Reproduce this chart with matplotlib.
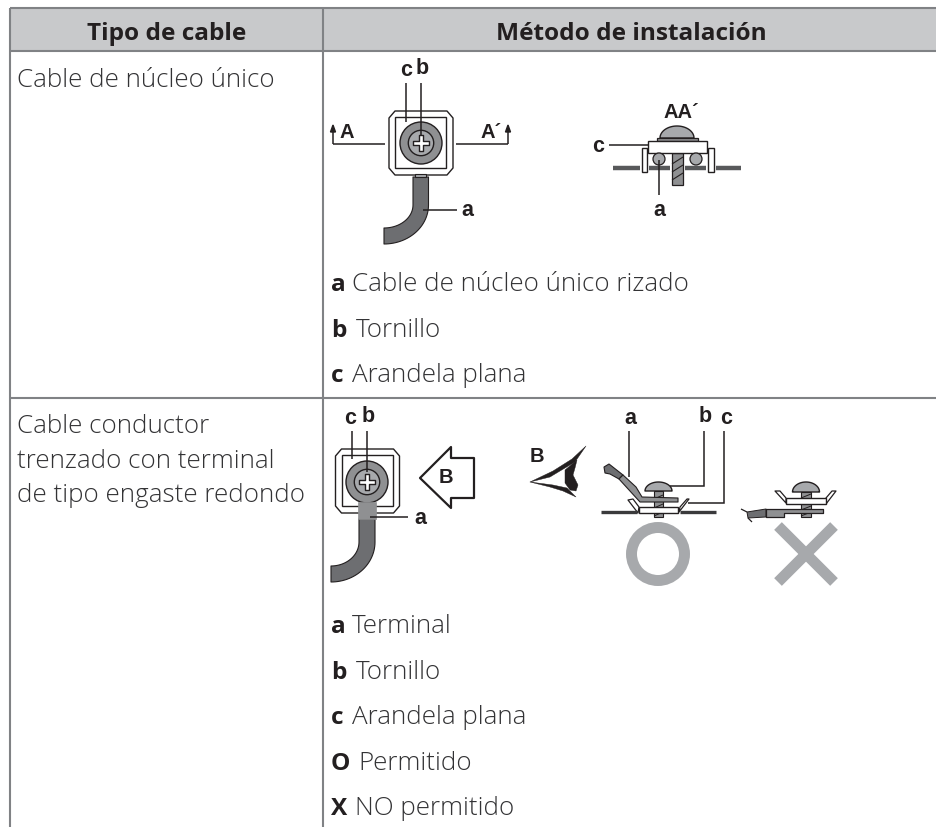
import numpy as np
import matplotlib
matplotlib.use('Agg')
import matplotlib.pyplot as plt
from matplotlib.patches import Polygon, Circle, Rectangle

DARK = '#231f20'
GREY = '#8f9092'
LIGHT = '#a7a9ac'
WIRE = '#6d6e71'
HEAD = '#c8c9cb'
LINE = '#808285'
TEXT = '#333335'
BODY = 'Open Sans'
LABEL = 'Liberation Sans'
SIZE = 18.7

headers = ['Tipo de cable', 'Método de instalación']
row1_left = ['Cable de núcleo único']
row2_left = ['Cable conductor', 'trenzado con terminal', 'de tipo engaste redondo']
row2_left_y = [433, 467.5, 502]
row1_items = [('a', 'Cable de núcleo único rizado', 291), ('b', 'Tornillo', 337), ('c', 'Arandela plana', 382)]
row2_items = [('a', 'Terminal', 633), ('b', 'Tornillo', 679), ('c', 'Arandela plana', 724),
              ('O', 'Permitido', 770), ('X', 'NO permitido', 815)]
item_x = {'a': 352, 'b': 356, 'c': 352, 'O': 358, 'X': 355}

fig = plt.figure(figsize=(9.37, 8.27), dpi=100)
ax = fig.add_axes([0, 0, 1, 1])
ax.set_xlim(0, 937)
ax.set_ylim(827, 0)
ax.axis('off')


def seg(xs, ys, lw=1.1, c=DARK, z=5):
    ax.plot(xs, ys, color=c, lw=lw, solid_capstyle='butt', solid_joinstyle='miter', zorder=z)


def poly(pts, fc='white', ec=DARK, lw=1.0, z=3):
    ax.add_patch(Polygon(pts, closed=True, fc=fc, ec=ec, lw=lw, zorder=z, joinstyle='round'))


def lab(x, y, s, size=15.5):
    ax.text(x, y, s, family=LABEL, weight='bold', fontsize=size, color=DARK, ha='center', va='center', zorder=8)


def rect(x0, y0, x1, y1, fc='white', ec=DARK, lw=1.0, z=3):
    ax.add_patch(Rectangle((x0, y0), x1 - x0, y1 - y0, fc=fc, ec=ec, lw=lw, zorder=z))


def dome(cx, y, rx, ry):
    theta = np.linspace(np.pi, 0, 40)
    poly(list(zip(cx + rx * np.cos(theta), y - ry * np.sin(theta))), fc=LIGHT, lw=1)


def cross(cx, cy, r, lw=1.0):
    w = r * 0.28
    pts = [(cx - w, cy - r), (cx + w, cy - r), (cx + w, cy - w), (cx + r, cy - w), (cx + r, cy + w), (cx + w, cy + w),
           (cx + w, cy + r), (cx - w, cy + r), (cx - w, cy + w), (cx - r, cy + w), (cx - r, cy - w), (cx - w, cy - w)]
    poly(pts, fc='white', ec=DARK, lw=lw, z=6)


def washer_top(cx, cy):
    # square washer with chamfered tabs, seen from above
    poly([(cx - 32, cy - 25), (cx - 26, cy - 32), (cx + 26, cy - 32), (cx + 32, cy - 25),
          (cx + 32, cy + 25), (cx + 26, cy + 32), (cx - 26, cy + 32), (cx - 32, cy + 25)], z=2)
    rect(cx - 25.5, cy - 26, cx + 25.5, cy + 25, z=2)


def screw_top(cx, cy):
    ax.add_patch(Circle((cx, cy), 21, fc=GREY, ec=DARK, lw=1.0, zorder=4))
    ax.add_patch(Circle((cx, cy), 12.7, fc=LIGHT, ec=DARK, lw=1.0, zorder=4))
    cross(cx, cy, 8)


def wire_bend(x0, x1, y_top, y_bend, x_end, y_end0, y_end1):
    t = np.linspace(0, np.pi / 2, 30)
    outer = list(zip(x1 - (x1 - x_end) * (1 - np.cos(t)), y_bend + (y_end1 - y_bend) * np.sin(t)))
    inner = list(zip(x_end + (x0 - x_end) * np.sin(t), y_end0 - (y_end0 - y_bend) * (1 - np.cos(t))))
    poly([(x0, y_top), (x1, y_top)] + outer + inner, fc=WIRE, lw=0.8)


# table
ax.add_patch(Rectangle((10, 8), 927, 43, fc=HEAD, ec='none', zorder=0))
for y in [8, 51, 398]:
    seg([10, 937], [y, y], c=LINE, lw=1.5, z=1)
for x in [10.5, 323.5]:
    seg([x, x], [8, 827], c=LINE, lw=1.5, z=1)

ax.text(167, 39.5, headers[0], family=BODY, weight='bold', fontsize=17.6, color=DARK, ha='center', va='baseline')
ax.text(631, 39.5, headers[1], family=BODY, weight='bold', fontsize=17.6, color=DARK, ha='center', va='baseline')
ax.text(17, 87, row1_left[0], family=BODY, weight='light', fontsize=SIZE, color=TEXT, va='baseline')
for s, y in zip(row2_left, row2_left_y):
    ax.text(17, y, s, family=BODY, weight='light', fontsize=SIZE, color=TEXT, va='baseline')
for letter, text, y in row1_items + row2_items:
    ax.text(331, y, letter, family=BODY, weight='bold', fontsize=17.6, color=DARK, va='baseline')
    ax.text(item_x[letter], y, text, family=BODY, weight='light', fontsize=SIZE, color=TEXT, va='baseline')

# top-left figure
wire_bend(413, 428.5, 177, 205, 384, 228, 244)
rect(415, 174, 426, 177, fc=LIGHT, lw=0.8)
washer_top(421, 143)
screw_top(421, 143)
seg([406, 406], [83, 122])
seg([421, 421], [83, 135])
lab(406, 70, 'c')
lab(422, 69, 'b')
seg([333, 385], [144, 144])
seg([333, 333], [130, 144])
seg([456, 508], [144, 144])
seg([508, 508], [130, 144])
ax.fill([333, 330.5, 335.5], [125, 132, 132], color=DARK, zorder=5)
ax.fill([508, 505.5, 510.5], [125, 132, 132], color=DARK, zorder=5)
lab(346.5, 133, 'A', 14.5)
lab(491, 133, 'A´', 14.5)
seg([423, 457], [210, 210])
lab(467.5, 211, 'a')

# top-right figure, section AA'
lab(681, 112, 'AA´', 14.5)
dome(677, 138, 17, 12)
rect(657, 138, 698, 141, fc=GREY, lw=0.9)
rect(648, 141, 707, 153, z=4)
rect(672, 153, 683, 185, fc=GREY, lw=0.9, z=2)
for y in [160, 168, 176]:
    seg([672, 683], [y + 4, y - 3], lw=0.8, z=3)
for x0, x1 in [(613, 640), (649, 670), (685, 706), (716, 741)]:
    seg([x0, x1], [168, 168], lw=3.2, c='#58595b', z=1)
rect(642, 148, 647, 172, z=4)
rect(708, 148, 714, 172, z=4)
ax.add_patch(Circle((659, 159), 6, fc=LIGHT, ec=DARK, lw=0.9, zorder=5))
ax.add_patch(Circle((696, 159), 6, fc=LIGHT, ec=DARK, lw=0.9, zorder=5))
seg([609, 648], [145, 145])
lab(598.5, 146, 'c')
seg([659, 659], [160, 195])
lab(659, 211, 'a')

# bottom-left figure
wire_bend(359, 375, 519, 542, 331, 566, 582)
washer_top(367.5, 481)
ax.add_patch(Circle((367, 482), 21, fc=GREY, ec=DARK, lw=1.0, zorder=4))
rect(358, 502, 376, 519, fc=GREY, ec=GREY, lw=0.5, z=4)
ax.add_patch(Circle((367, 482), 12.7, fc=LIGHT, ec=DARK, lw=1.0, zorder=4))
cross(367, 482, 8)
seg([352, 352], [431, 459])
seg([367, 367], [431, 472])
lab(350.5, 418, 'c')
lab(368, 417, 'b')
seg([370, 408], [517, 517])
lab(420.5, 519, 'a')
poly([(420, 478), (451, 447), (451, 458), (474, 458), (474, 498), (451, 498), (451, 508)], lw=1.6)
lab(446, 477.5, 'B', 14.5)

# eye
lab(537, 456, 'B', 14.5)
poly([(530, 482), (553, 471), (572, 459), (586, 446), (575, 462), (565, 468), (550, 477)], fc=DARK, lw=0.3)
poly([(565, 470), (577, 460), (575, 468), (573, 475), (578, 485), (576, 491), (570, 490), (565, 483)], fc=DARK, lw=0.3)
poly([(530, 482), (553, 485), (567, 488), (576, 497), (563, 491), (550, 487)], fc=DARK, lw=0.3)

# bottom-middle section, allowed
poly([(604, 467), (609, 464), (623, 475), (619, 479), (610, 474), (605, 473)], fc=WIRE, lw=0.8)
poly([(623, 475), (636, 487), (642, 497), (678, 498), (678, 502), (640, 502), (619, 479)], fc=GREY, lw=0.8, z=4)
rect(654, 491, 663, 517, fc=GREY, lw=0.8, z=2)
for y in [497, 506, 514]:
    seg([654, 663], [y + 2, y - 2], lw=0.7, z=3)
dome(658.5, 491, 13.5, 9)
rect(639, 507, 678, 513, z=4)
poly([(628, 500), (633, 499), (639, 507), (638, 513)], lw=0.9)
poly([(679, 512), (680, 507), (687, 499), (689, 499)], lw=0.9)
seg([601, 637], [512, 512], lw=2.4, c='#3a3a3c')
seg([680, 716], [512, 512], lw=2.4, c='#3a3a3c')
seg([629, 629], [431, 477])
lab(630, 418, 'a')
seg([670, 704, 704], [486, 486, 431])
lab(705, 417, 'b')
seg([688, 724, 724], [503, 503, 431])
lab(726, 418, 'c')
ax.add_patch(Circle((658, 554), 26.5, fc='none', ec=LIGHT, lw=7.9, zorder=3))

# bottom-right section, not allowed
rect(801, 492, 811, 517, fc=GREY, lw=0.8, z=2)
for y in [496, 508, 514]:
    seg([801, 811], [y + 2, y - 2], lw=0.7, z=3)
dome(806, 492, 13.5, 10)
rect(786, 498, 826, 504, z=4)
poly([(775, 491), (780, 491), (786, 498), (786, 503)], lw=0.9)
poly([(826, 498), (832, 491), (836, 491), (826, 504)], lw=0.9)
poly([(766, 509), (823, 509), (823, 513), (784, 513), (784, 517), (766, 517)], fc=GREY, lw=0.9, z=4)
poly([(747, 512), (766, 509), (766, 517), (748, 518)], fc=WIRE, lw=0.7)
seg([741, 747], [509, 512], lw=0.9)
seg([748, 752], [518, 522], lw=0.9)
seg([778, 834], [526, 582], lw=7.8, c=LIGHT)
seg([834, 778], [526, 582], lw=7.8, c=LIGHT)

fig.savefig('out.png', dpi=100)
